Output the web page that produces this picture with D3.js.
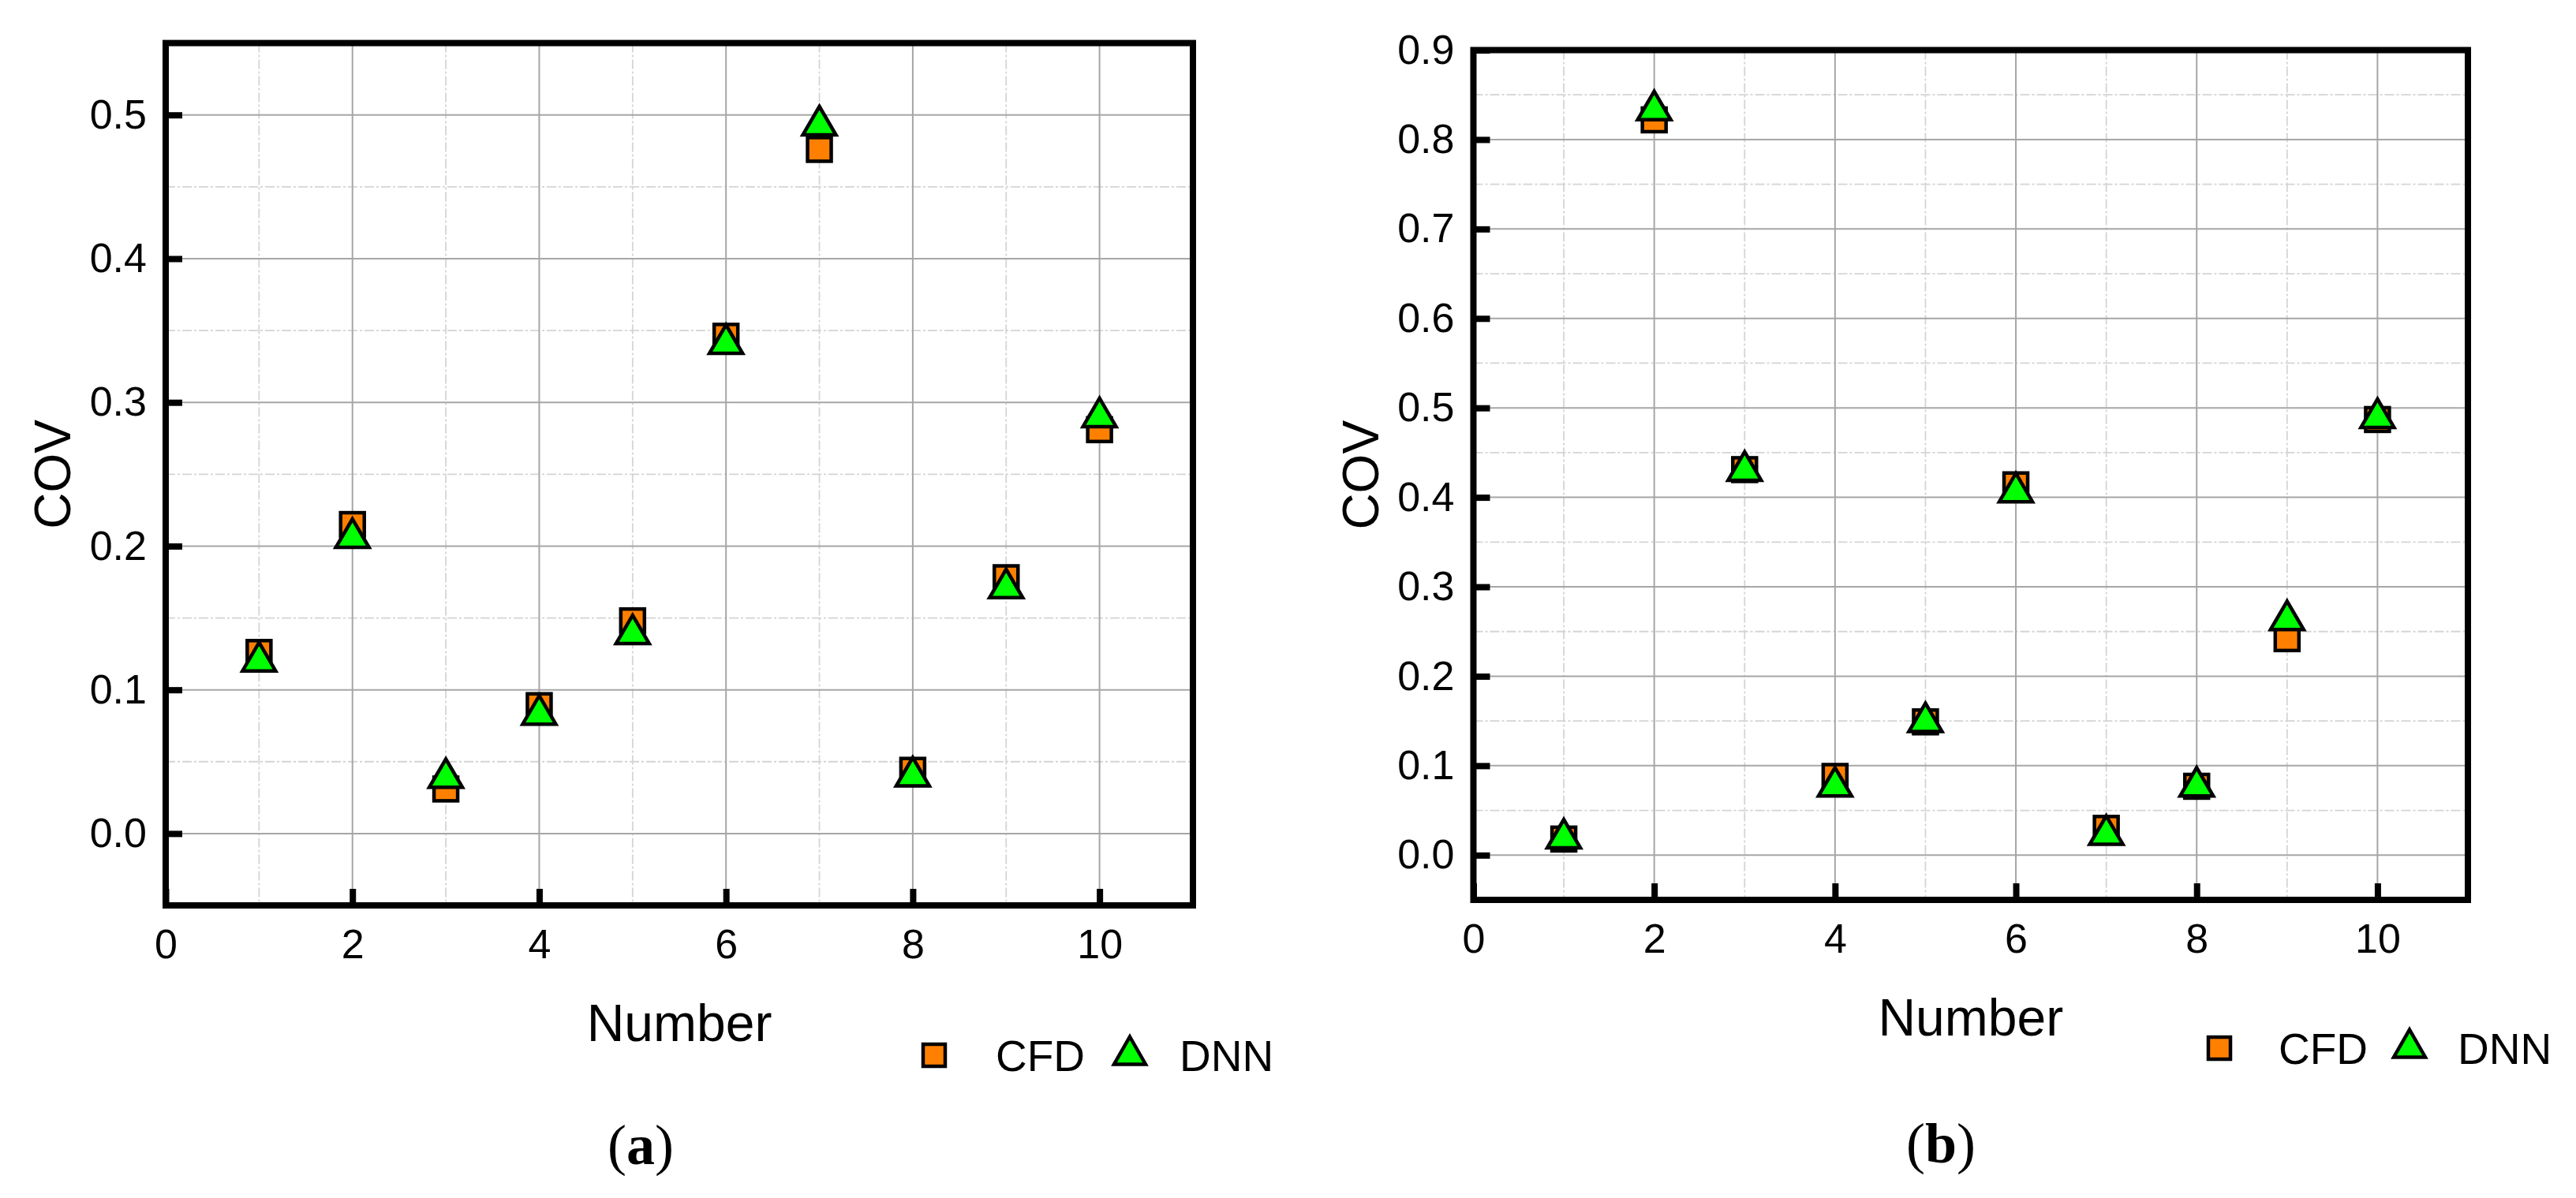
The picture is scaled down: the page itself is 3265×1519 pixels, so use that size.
<!DOCTYPE html>
<html>
<head>
<meta charset="utf-8">
<script src="https://cdn.jsdelivr.net/npm/d3@7"></script>
<style>
  html, body { margin: 0; padding: 0; background: #fff; }
  svg { display: block; }
</style>
</head>
<body>
<svg id="chart" width="3265" height="1519"></svg>
<script>
// ---------- DATA ----------
const numbers = [1, 2, 3, 4, 5, 6, 7, 8, 9, 10];
const cfdA = [0.126, 0.215, 0.031, 0.089, 0.148, 0.346, 0.476, 0.044, 0.178, 0.281];
const dnnA = [0.123, 0.209, 0.042, 0.086, 0.142, 0.344, 0.496, 0.043, 0.174, 0.293];
const cfdB = [0.018, 0.822, 0.431, 0.088, 0.149, 0.414, 0.030, 0.077, 0.242, 0.487];
const dnnB = [0.024, 0.838, 0.435, 0.082, 0.154, 0.411, 0.028, 0.082, 0.268, 0.494];
const xTickLabels = [0, 2, 4, 6, 8, 10];
const xMinorTicks = [1, 3, 5, 7, 9];
const yTicksA = [0.0, 0.1, 0.2, 0.3, 0.4, 0.5];
const yMinorA = [0.05, 0.15, 0.25, 0.35, 0.45];
const yTicksB = [0.0, 0.1, 0.2, 0.3, 0.4, 0.5, 0.6, 0.7, 0.8, 0.9];
const yMinorB = [0.05, 0.15, 0.25, 0.35, 0.45, 0.55, 0.65, 0.75, 0.85];
const seriesNames = ["CFD", "DNN"];
const panelLabels = ["a", "b"];
const xTitle = "Number";
const yTitle = "COV";

// ---------- STYLE ----------
const ORANGE = "#ff8000";
const GREEN = "#00ff00";
const MAJOR_GRID = "#a6a6a6";
const MINOR_GRID = "#d4d4d4";
const SANS = "'Liberation Sans', Arial, sans-serif";
const SERIF = "'Liberation Serif', 'Times New Roman', serif";

const svg = d3.select("#chart");

function drawPanel(cfg) {
  const x = d3.scaleLinear().domain([0, 11]).range([cfg.left, cfg.right]);
  const y = d3.scaleLinear().domain(cfg.yDomain).range([cfg.bottom, cfg.top]);
  const g = svg.append("g");

  // minor grid
  g.append("g").selectAll("line").data(xMinorTicks).join("line")
    .attr("x1", d => x(d)).attr("x2", d => x(d))
    .attr("y1", cfg.top).attr("y2", cfg.bottom)
    .attr("stroke", MINOR_GRID).attr("stroke-width", 1.8)
    .attr("stroke-dasharray", "12,3,3,3");
  g.append("g").selectAll("line").data(cfg.yMinor).join("line")
    .attr("y1", d => y(d)).attr("y2", d => y(d))
    .attr("x1", cfg.left).attr("x2", cfg.right)
    .attr("stroke", MINOR_GRID).attr("stroke-width", 1.8)
    .attr("stroke-dasharray", "12,3,3,3");
  // major grid
  g.append("g").selectAll("line").data(xTickLabels.filter(d => d > 0)).join("line")
    .attr("x1", d => x(d)).attr("x2", d => x(d))
    .attr("y1", cfg.top).attr("y2", cfg.bottom)
    .attr("stroke", MAJOR_GRID).attr("stroke-width", 2);
  g.append("g").selectAll("line").data(cfg.yTicks).join("line")
    .attr("y1", d => y(d)).attr("y2", d => y(d))
    .attr("x1", cfg.left).attr("x2", cfg.right)
    .attr("stroke", MAJOR_GRID).attr("stroke-width", 2);

  // axes (ticks inward)
  const xAxis = d3.axisBottom(x).tickValues(xTickLabels).tickFormat(d3.format("d"))
    .tickSizeInner(-21).tickSizeOuter(0).tickPadding(30);
  const gx = g.append("g").attr("transform", `translate(0,${cfg.bottom})`).call(xAxis);
  const yAxis = d3.axisLeft(y).tickValues(cfg.yTicks).tickFormat(d3.format(".1f"))
    .tickSizeInner(-21).tickSizeOuter(0).tickPadding(24);
  const gy = g.append("g").attr("transform", `translate(${cfg.left},0)`).call(yAxis);
  [gx, gy].forEach(a => {
    a.select(".domain").remove();
    a.selectAll(".tick line").attr("stroke", "#000").attr("stroke-width", 8);
    a.selectAll(".tick text").attr("font-family", SANS).attr("font-size", 52).attr("fill", "#000");
  });

  // frame
  g.append("rect")
    .attr("x", cfg.left).attr("y", cfg.top)
    .attr("width", cfg.right - cfg.left).attr("height", cfg.bottom - cfg.top)
    .attr("fill", "none").attr("stroke", "#000").attr("stroke-width", 8);

  // markers
  const sq = 30, triW = 42, triH = 36;
  const triPath = (cx, cy, w, h) => `M${cx},${cy - h / 2}L${cx + w / 2},${cy + h / 2}L${cx - w / 2},${cy + h / 2}Z`;
  g.append("g").selectAll("rect").data(numbers).join("rect")
    .attr("x", (d) => x(d) - sq / 2)
    .attr("y", (d, i) => y(cfg.cfd[i]) - sq / 2)
    .attr("width", sq).attr("height", sq)
    .attr("fill", ORANGE).attr("stroke", "#000").attr("stroke-width", 4.5);
  g.append("g").selectAll("path").data(numbers).join("path")
    .attr("d", (d, i) => triPath(x(d), y(cfg.dnn[i]), triW, triH))
    .attr("fill", GREEN).attr("stroke", "#000").attr("stroke-width", 4.5)
    .attr("stroke-linejoin", "miter");

  // axis titles
  g.append("text")
    .attr("transform", `translate(${cfg.left - 121},${(cfg.top + cfg.bottom) / 2 + 0}) rotate(-90)`)
    .attr("text-anchor", "middle")
    .attr("font-family", SANS).attr("font-size", 64)
    .text(yTitle);
  g.append("text")
    .attr("x", (cfg.left + cfg.right) / 2).attr("y", cfg.bottom + 172)
    .attr("text-anchor", "middle")
    .attr("font-family", SANS).attr("font-size", 66)
    .text(xTitle);

  // legend
  const L = cfg.legend;
  g.append("rect")
    .attr("x", L.sqX - 14).attr("y", L.sqY - 14).attr("width", 28).attr("height", 28)
    .attr("fill", ORANGE).attr("stroke", "#000").attr("stroke-width", 4.5);
  g.append("text").attr("x", L.t1X).attr("y", L.base)
    .attr("font-family", SANS).attr("font-size", 55).text(seriesNames[0]);
  g.append("path").attr("d", triPath(L.triX, L.triY, 40, 35))
    .attr("fill", GREEN).attr("stroke", "#000").attr("stroke-width", 4.5);
  g.append("text").attr("x", L.t2X).attr("y", L.base)
    .attr("font-family", SANS).attr("font-size", 55).text(seriesNames[1]);

  // panel caption
  const cap = g.append("text")
    .attr("x", cfg.capX).attr("y", cfg.capY)
    .attr("text-anchor", "middle")
    .attr("font-family", SERIF).attr("font-size", 72);
  cap.append("tspan").text("(");
  cap.append("tspan").attr("font-weight", "bold").text(cfg.label);
  cap.append("tspan").text(")");
}

drawPanel({
  left: 210, right: 1512, top: 54.6, bottom: 1148,
  yDomain: [-0.05, 0.55], yTicks: yTicksA, yMinor: yMinorA,
  cfd: cfdA, dnn: dnnA,
  legend: { sqX: 1184, sqY: 1338, t1X: 1262, triX: 1432, triY: 1332, t2X: 1495, base: 1358 },
  capX: 812, capY: 1476, label: panelLabels[0]
});
drawPanel({
  left: 1867.5, right: 3128, top: 63.5, bottom: 1141,
  yDomain: [-0.05, 0.9], yTicks: yTicksB, yMinor: yMinorB,
  cfd: cfdB, dnn: dnnB,
  legend: { sqX: 2813, sqY: 1329, t1X: 2888, triX: 3054, triY: 1323, t2X: 3115, base: 1349 },
  capX: 2460, capY: 1474, label: panelLabels[1]
});
</script>
</body>
</html>
